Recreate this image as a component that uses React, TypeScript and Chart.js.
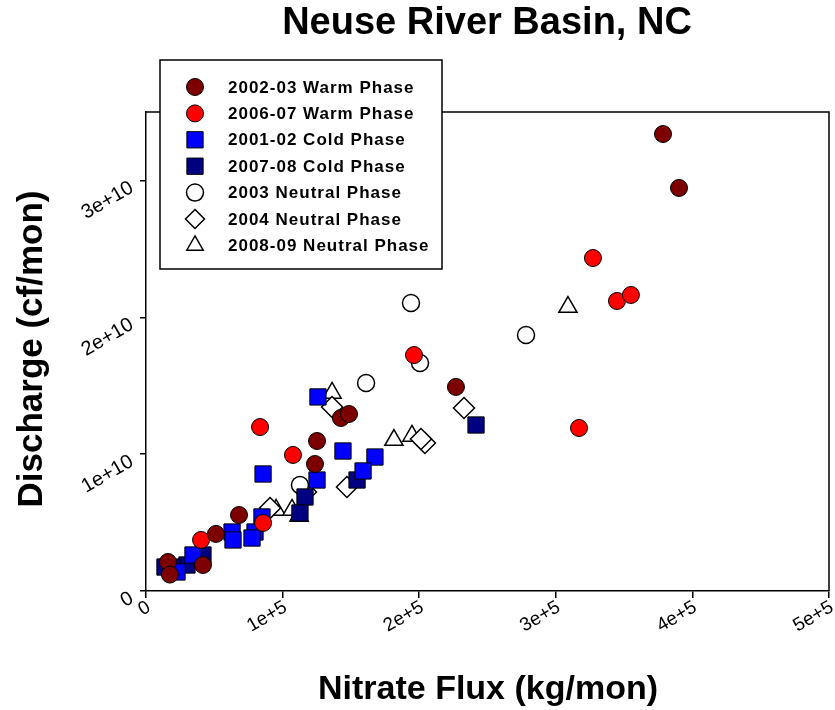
import { useEffect, useRef } from 'react';
import { Chart, registerables } from 'chart.js';

Chart.register(...registerables);

// Nitrate flux (kg/mon) and discharge (cf/mon) per month, grouped by ENSO phase
const warm0203X = [378500, 390200, 226900, 142700, 148600, 125200, 123700, 68100, 51200, 41700, 16100, 17500];
const warm0203Y = [3.339e10, 2.945e10, 1.491e10, 1.264e10, 1.293e10, 1.096e10, 9.28e9, 5.55e9, 4.17e9, 1.9e9, 2.12e9, 1.2e9];

const warm0607X = [327200, 344800, 355000, 317000, 196200, 83500, 107600, 40300, 85700];
const warm0607Y = [2.433e10, 2.119e10, 2.163e10, 1.191e10, 1.724e10, 1.198e10, 9.94e9, 3.73e9, 4.97e9];

const cold0102X = [125900, 85700, 144200, 167600, 158900, 125200, 84900, 63000, 63700, 79800, 77600, 34400, 22700];
const cold0102Y = [1.418e10, 8.55e9, 1.023e10, 9.79e9, 8.77e9, 8.11e9, 5.41e9, 4.31e9, 3.73e9, 4.31e9, 3.87e9, 2.63e9, 1.39e9];

const cold0708X = [241600, 154500, 116400, 112700, 41700, 30000, 19000, 13900];
const cold0708Y = [1.213e10, 8.11e9, 6.87e9, 5.7e9, 2.63e9, 1.9e9, 1.75e9, 1.75e9];

const neutral03X = [194000, 278200, 200600, 161100, 112700];
const neutral03Y = [2.104e10, 1.871e10, 1.666e10, 1.52e10, 7.75e9];

const neutral04X = [136200, 232800, 204200, 201300, 147100, 117100, 90800];
const neutral04Y = [1.344e10, 1.337e10, 1.081e10, 1.111e10, 7.6e9, 7.23e9, 6.06e9];

const neutral0809X = [308900, 136200, 181500, 194700, 95200, 106900, 112000];
const neutral0809Y = [2.075e10, 1.447e10, 1.103e10, 1.133e10, 5.92e9, 5.92e9, 5.48e9];

const seriesNames = [
  '2002-03 Warm Phase',
  '2006-07 Warm Phase',
  '2001-02 Cold Phase',
  '2007-08 Cold Phase',
  '2003 Neutral Phase',
  '2004 Neutral Phase',
  '2008-09 Neutral Phase',
];

const xTickValues = [0, 1e5, 2e5, 3e5, 4e5, 5e5];
const xTickLabels = ['0', '1e+5', '2e+5', '3e+5', '4e+5', '5e+5'];
const yTickValues = [0, 1e10, 2e10, 3e10];
const yTickLabels = ['0', '1e+10', '2e+10', '3e+10'];

const FONT = '"Liberation Sans", Arial, Helvetica, sans-serif';

type Marker = { style: 'circle' | 'rect' | 'rectRot' | 'triangle'; radius: number; fill: string; lw: number };

const markers: Marker[] = [
  { style: 'circle', radius: 8.5, fill: '#7d0000', lw: 1 },
  { style: 'circle', radius: 8.5, fill: '#ff0000', lw: 1 },
  { style: 'rect', radius: 11.5, fill: '#0000ff', lw: 1 },
  { style: 'rect', radius: 11.5, fill: '#000080', lw: 1 },
  { style: 'circle', radius: 8.5, fill: '#ffffff', lw: 1.5 },
  { style: 'rectRot', radius: 10.5, fill: '#ffffff', lw: 1.5 },
  { style: 'triangle', radius: 10.5, fill: '#ffffff', lw: 1.5 },
];

const seriesX = [warm0203X, warm0607X, cold0102X, cold0708X, neutral03X, neutral04X, neutral0809X];
const seriesY = [warm0203Y, warm0607Y, cold0102Y, cold0708Y, neutral03Y, neutral04Y, neutral0809Y];

function drawLegendMarker(ctx: CanvasRenderingContext2D, m: Marker, x: number, y: number) {
  ctx.save();
  ctx.beginPath();
  const r = m.radius;
  if (m.style === 'circle') {
    ctx.arc(x, y, r, 0, Math.PI * 2);
  } else if (m.style === 'rect') {
    const s = r * Math.SQRT1_2;
    ctx.rect(x - s, y - s, 2 * s, 2 * s);
  } else if (m.style === 'rectRot') {
    ctx.moveTo(x, y - r);
    ctx.lineTo(x + r, y);
    ctx.lineTo(x, y + r);
    ctx.lineTo(x - r, y);
    ctx.closePath();
  } else {
    const w = r * Math.sin(Math.PI / 3);
    ctx.moveTo(x, y - r);
    ctx.lineTo(x + w, y + r / 2);
    ctx.lineTo(x - w, y + r / 2);
    ctx.closePath();
  }
  ctx.fillStyle = m.fill;
  ctx.fill();
  ctx.lineWidth = m.lw;
  ctx.strokeStyle = '#000';
  ctx.stroke();
  ctx.restore();
}

const decorations = {
  id: 'decorations',
  afterDraw(chart: any) {
    const { ctx, chartArea, scales } = chart;
    const { left, right, top, bottom } = chartArea;
    ctx.save();

    // top and right frame lines
    ctx.strokeStyle = '#000';
    ctx.lineWidth = 1.5;
    ctx.beginPath();
    ctx.moveTo(left, top);
    ctx.lineTo(right, top);
    ctx.lineTo(right, bottom);
    ctx.stroke();

    ctx.fillStyle = '#000';

    // title
    ctx.font = `bold 38px ${FONT}`;
    ctx.textAlign = 'center';
    ctx.textBaseline = 'middle';
    ctx.fillText('Neuse River Basin, NC', 487, 24);

    // axis titles
    ctx.font = `bold 34px ${FONT}`;
    ctx.fillText('Nitrate Flux (kg/mon)', 488, 690);
    ctx.save();
    ctx.translate(32, 349);
    ctx.rotate(-Math.PI / 2);
    ctx.font = `bold 35px ${FONT}`;
    ctx.fillText('Discharge (cf/mon)', 0, 0);
    ctx.restore();

    // rotated tick labels
    ctx.font = `19px ${FONT}`;
    ctx.textAlign = 'right';
    ctx.textBaseline = 'middle';
    xTickValues.forEach((v, i) => {
      const px = scales.x.getPixelForValue(v);
      ctx.save();
      ctx.translate(px + 3, bottom + 15);
      ctx.rotate(-Math.PI / 6);
      ctx.fillText(xTickLabels[i], 0, 0);
      ctx.restore();
    });
    ctx.font = `20px ${FONT}`;
    yTickValues.forEach((v, i) => {
      const py = scales.y.getPixelForValue(v);
      ctx.save();
      ctx.translate(left - 14, py + 6);
      ctx.rotate(-Math.PI / 6);
      ctx.fillText(yTickLabels[i], 0, 0);
      ctx.restore();
    });

    // legend box
    const lx = 160, ly = 60, lw = 282, lh = 209;
    ctx.fillStyle = '#fff';
    ctx.fillRect(lx, ly, lw, lh);
    ctx.strokeStyle = '#000';
    ctx.lineWidth = 1.5;
    ctx.strokeRect(lx, ly, lw, lh);
    ctx.font = `bold 17px ${FONT}`;
    ctx.textAlign = 'left';
    ctx.textBaseline = 'middle';
    (ctx as any).letterSpacing = '1px';
    seriesNames.forEach((name, i) => {
      const y = 87 + i * 26.4;
      const m = markers[i];
      drawLegendMarker(ctx, { ...m, radius: m.style === 'rect' ? 11.5 : m.style === 'circle' ? 8.5 : 9.5 }, 195, y);
      ctx.fillStyle = '#000';
      ctx.fillText(name, 228, y + 1);
    });
    (ctx as any).letterSpacing = '0px';
    ctx.restore();
  },
};

export default function App() {
  const canvasRef = useRef<HTMLCanvasElement | null>(null);

  useEffect(() => {
    const canvas = canvasRef.current;
    if (!canvas) return;
    const datasets = seriesNames.map((name, i) => ({
      label: name,
      data: seriesX[i].map((x, j) => ({ x, y: seriesY[i][j] })),
      pointStyle: markers[i].style,
      pointRadius: markers[i].radius,
      pointHoverRadius: markers[i].radius,
      backgroundColor: markers[i].fill,
      borderColor: '#000',
      borderWidth: markers[i].lw,
      showLine: false,
    }));

    const chart = new Chart(canvas, {
      type: 'scatter',
      data: { datasets },
      options: {
        animation: false,
        responsive: false,
        devicePixelRatio: 1,
        events: [],
        layout: { autoPadding: false, padding: { top: 112, right: 6, left: 0, bottom: 0 } },
        plugins: {
          legend: { display: false },
          title: { display: false },
          tooltip: { enabled: false },
        },
        scales: {
          x: {
            type: 'linear',
            min: 0,
            max: 5e5,
            afterBuildTicks: (s: any) => {
              s.ticks = xTickValues.map((value) => ({ value }));
            },
            afterFit: (s: any) => {
              s.height = 119;
            },
            ticks: { display: false },
            grid: { drawOnChartArea: false, drawTicks: true, tickLength: 7, color: '#000', lineWidth: 1.5 },
            border: { color: '#000', width: 1.5 },
          },
          y: {
            type: 'linear',
            min: 0,
            max: 3.5e10,
            afterBuildTicks: (s: any) => {
              s.ticks = yTickValues.map((value) => ({ value }));
            },
            afterFit: (s: any) => {
              s.width = 146;
            },
            ticks: { display: false },
            grid: { drawOnChartArea: false, drawTicks: true, tickLength: 6, color: '#000', lineWidth: 1.5 },
            border: { color: '#000', width: 1.5 },
          },
        },
      },
      plugins: [decorations],
    });
    return () => chart.destroy();
  }, []);

  return (
    <div style={{ position: 'absolute', left: 0, top: 0, width: 835, height: 710, background: '#fff' }}>
      <canvas ref={canvasRef} width={835} height={710} style={{ display: 'block' }} />
    </div>
  );
}
